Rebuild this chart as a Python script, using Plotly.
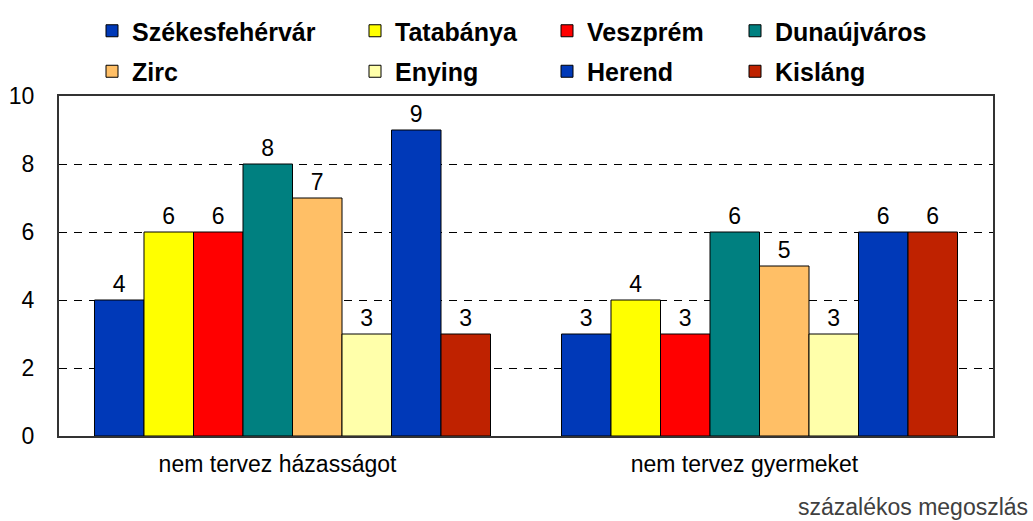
import plotly.graph_objects as go

categories = ["nem tervez házasságot", "nem tervez gyermeket"]
cities = ["Székesfehérvár", "Tatabánya", "Veszprém", "Dunaújváros",
          "Zirc", "Enying", "Herend", "Kisláng"]
values = {
    "Székesfehérvár": [4, 3],
    "Tatabánya": [6, 4],
    "Veszprém": [6, 3],
    "Dunaújváros": [8, 6],
    "Zirc": [7, 5],
    "Enying": [3, 3],
    "Herend": [9, 6],
    "Kisláng": [3, 6],
}
colors = ["#0039B8", "#FFFF00", "#FF0000", "#008080",
          "#FFBF66", "#FFFFAA", "#0039B8", "#BF2200"]
y_ticks = [0, 2, 4, 6, 8, 10]

FONT = "Arial, Liberation Sans, Arimo, sans-serif"
W, H = 1033, 521

legend_ids = ["legend", "legend2", "legend3", "legend4"]
col_of = [0, 1, 2, 3, 0, 1, 2, 3]
text_start = [132, 395, 587, 775]

fig = go.Figure()
for i, c in enumerate(cities):
    fig.add_trace(go.Bar(
        x=categories, y=values[c], name=c,
        marker=dict(color=colors[i], line=dict(color="#000000", width=1)),
        text=[str(v) for v in values[c]], textposition="outside",
        textfont=dict(family=FONT, size=23, color="#000000"),
        cliponaxis=False,
        legend=legend_ids[col_of[i]], legendgroup=c,
    ))

legend_common = dict(
    orientation="v", xref="container", yref="container",
    yanchor="top", y=1 - 8 / H,
    font=dict(family=FONT, size=25, color="#000000", weight="bold"),
    bgcolor="rgba(0,0,0,0)", tracegroupgap=5, itemclick=False,
)
layout_legends = {}
for k, lid in enumerate(legend_ids):
    layout_legends[lid] = dict(legend_common, x=(text_start[k] - 40) / W, xanchor="left")

fig.update_layout(
    width=W, height=H,
    margin=dict(l=59, r=40, t=96, b=85, autoexpand=False),
    paper_bgcolor="#FFFFFF", plot_bgcolor="#FFFFFF",
    barmode="group", bargap=0.152, bargroupgap=0,
    font=dict(family=FONT, size=23, color="#000000"),
    showlegend=True,
    **layout_legends,
)
fig.update_yaxes(
    range=[0, 10], tickvals=y_ticks, ticks="",
    tickfont=dict(family=FONT, size=23, color="#000000"),
    showgrid=True, gridcolor="#000000", gridwidth=1, griddash="8px,7px",
    showline=True, linecolor="#333333", linewidth=2, mirror=True,
    zeroline=False, ticklabelstandoff=18,
)
fig.update_xaxes(
    ticks="", tickfont=dict(family=FONT, size=23, color="#000000"),
    tickangle=0,
    showline=True, linecolor="#333333", linewidth=2, mirror=True,
    ticklabelshift=-15, ticklabelstandoff=6,
)
fig.add_annotation(
    text="százalékos megoszlás", xref="paper", yref="paper",
    x=(1030 - 59) / 934, y=-(507 - 436) / 340, xanchor="right", yanchor="middle",
    showarrow=False,
    font=dict(family=FONT, size=23, color="#404040"),
)

fig.write_html("out.html", config={"displayModeBar": False},
               post_script="document.body.style.margin='0';")
